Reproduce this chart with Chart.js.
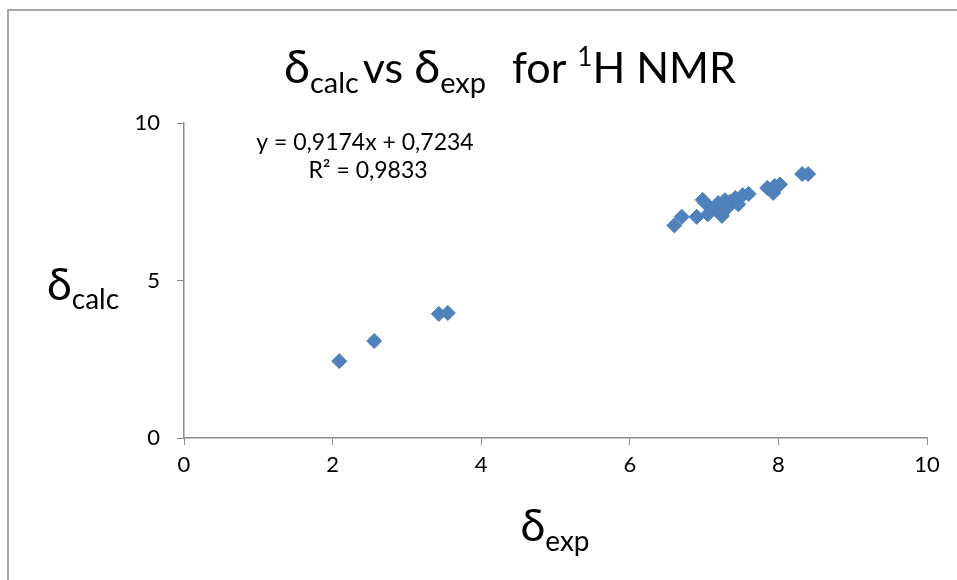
<!DOCTYPE html>
<html>
<head>
<meta charset="utf-8">
<script src="https://cdn.jsdelivr.net/npm/chart.js@4"></script>
<style>
  html, body { margin: 0; padding: 0; background: #fff; }
  #wrap { width: 957px; height: 580px; }
</style>
</head>
<body>
<div id="wrap"><canvas id="nmrChart" width="957" height="580"></canvas></div>
<script>
// experimental vs calculated 1H shifts (ppm)
const expShift = [2.09, 2.56, 3.43, 3.55, 6.60, 6.70, 6.90, 6.98, 7.02, 7.05, 7.15, 7.19, 7.24, 7.24,
  7.28, 7.31, 7.35, 7.42, 7.46, 7.52, 7.60, 7.85, 7.93, 7.95, 8.02, 8.32, 8.40];
const calcShift = [2.44, 3.08, 3.94, 3.97, 6.75, 7.02, 7.02, 7.56, 7.45, 7.10, 7.30, 7.46, 7.05, 7.20,
  7.55, 7.30, 7.50, 7.62, 7.42, 7.71, 7.75, 7.94, 7.78, 8.00, 8.05, 8.38, 8.38];
const xTicks = [0, 2, 4, 6, 8, 10];
const yTicks = [0, 5, 10];
const trendText = ["y = 0,9174x + 0,7234", "R² = 0,9833"];

const FONT = "Lato, 'Open Sans', sans-serif";

// draws text runs with sub/superscripts, centred on cx
function richText(ctx, parts, cx, baseline) {
  let total = 0;
  parts.forEach(p => {
    ctx.font = p.size + "px " + FONT;
    p.w = ctx.measureText(p.t).width;
    total += p.w + (p.gap || 0);
  });
  let x = cx - total / 2;
  parts.forEach(p => {
    ctx.font = p.size + "px " + FONT;
    ctx.fillText(p.t, x, baseline + (p.dy || 0));
    x += p.w + (p.gap || 0);
  });
}

const decorPlugin = {
  id: "decor",
  beforeDraw(chart) {
    const ctx = chart.ctx;
    ctx.save();
    ctx.strokeStyle = "#8c8c8c";
    ctx.lineWidth = 1.5;
    ctx.strokeRect(8, 10, 2000, 2000);
    ctx.restore();
  },
  afterDraw(chart) {
    const ctx = chart.ctx;
    ctx.save();
    ctx.fillStyle = "#000";
    ctx.textBaseline = "alphabetic";
    // title
    richText(ctx, [
      { t: "δ", size: 47 },
      { t: "calc", size: 29, dy: 10, gap: 4 },
      { t: "vs ", size: 43 },
      { t: "δ", size: 47 },
      { t: "exp", size: 29, dy: 10, gap: 26 },
      { t: "for ", size: 43 },
      { t: "1", size: 26, dy: -17 },
      { t: "H NMR", size: 43 }
    ], 510, 83);
    // y axis title
    richText(ctx, [
      { t: "δ", size: 45 },
      { t: "calc", size: 28, dy: 9 }
    ], 83, 300);
    // x axis title
    richText(ctx, [
      { t: "δ", size: 45 },
      { t: "exp", size: 28, dy: 10 }
    ], 555, 541);
    // trendline equation
    ctx.font = "23px " + FONT;
    ctx.textAlign = "center";
    ctx.fillText(trendText[0], 365, 150);
    ctx.fillText(trendText[1], 368, 178);
    ctx.restore();
  }
};

const points = expShift.map((x, i) => ({ x: x, y: calcShift[i] }));

new Chart(document.getElementById("nmrChart"), {
  type: "scatter",
  data: {
    datasets: [{
      data: points,
      pointStyle: "rectRot",
      pointRadius: 7.5,
      pointHoverRadius: 7.5,
      backgroundColor: "#4f81bd",
      borderColor: "#4a7ebb",
      borderWidth: 1
    }]
  },
  options: {
    responsive: false,
    animation: false,
    layout: { padding: { top: 123, right: 30, left: 0, bottom: 0 } },
    plugins: { legend: { display: false }, tooltip: { enabled: false } },
    scales: {
      x: {
        type: "linear",
        min: 0, max: 10,
        afterBuildTicks: s => { s.ticks = xTicks.map(v => ({ value: v })); },
        afterFit: s => { s.height = 142; },
        grid: { drawOnChartArea: false, drawTicks: true, tickLength: 7, color: "#8c8c8c" },
        border: { color: "#8c8c8c", width: 1.5 },
        ticks: { color: "#000", padding: 7, font: { family: FONT, size: 22 } }
      },
      y: {
        type: "linear",
        min: 0, max: 10,
        afterBuildTicks: s => { s.ticks = yTicks.map(v => ({ value: v })); },
        afterFit: s => { s.width = 184; },
        grid: { drawOnChartArea: false, drawTicks: true, tickLength: 7, color: "#8c8c8c" },
        border: { color: "#8c8c8c", width: 1.5 },
        ticks: { color: "#000", padding: 17, font: { family: FONT, size: 22 } }
      }
    }
  },
  plugins: [decorPlugin]
});
</script>
</body>
</html>
